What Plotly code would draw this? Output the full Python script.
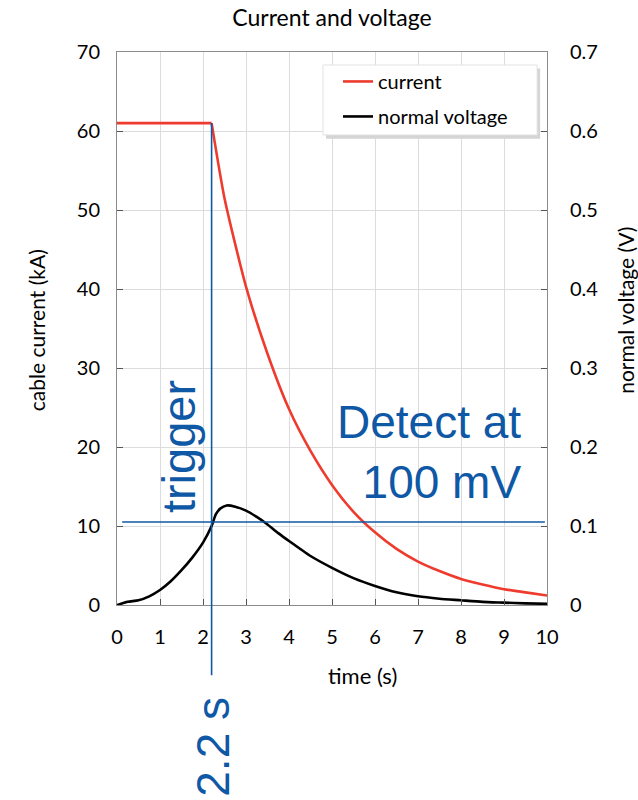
import plotly.graph_objects as go

# ---- data ----
# current: flat until the trigger, then decays
time_flat = [0, 2.2]
current_flat = [61, 61]
time_decay = [2.2, 2.5, 3.0, 3.5, 4.0, 4.5, 5.0, 5.5, 6.0, 6.5, 7.0, 7.5, 8.0, 8.5, 9.0, 9.5, 10.0]
current_decay = [61, 51.5, 40.3, 31.8, 24.8, 19.5, 15.2, 11.8, 9.2, 7.1, 5.5, 4.3, 3.3, 2.6, 2.0, 1.6, 1.2]

time_voltage = [0, 0.25, 0.5, 0.75, 1.0, 1.25, 1.5, 1.75, 2.0, 2.2, 2.3, 2.4, 2.55, 2.75, 3.0,
                3.25, 3.5, 3.75, 4.0, 4.5, 5.0, 5.5, 6.0, 6.5, 7.0, 7.5, 8.0, 8.5, 9.0, 9.5, 10.0]
voltage_v = [0.0, 0.004, 0.006, 0.011, 0.019, 0.03, 0.044, 0.06, 0.079, 0.1, 0.115, 0.122, 0.126, 0.1245, 0.1195,
             0.1115, 0.102, 0.091, 0.081, 0.062, 0.047, 0.034, 0.024, 0.016, 0.011, 0.008, 0.006, 0.004, 0.003, 0.002, 0.0015]

trigger_t = 2.2        # s
trigger_ka = 61        # current at trigger
detect_v = 0.105       # threshold line (V)

BLUE = '#0F58A5'
RED = '#EE3B2D'
FONT = 'Lato, Open Sans, sans-serif'
GRID = '#DCDCDC'
AXIS = '#8C8C8C'
BIG = 'Liberation Sans, Arial'

fig = go.Figure()
fig.add_trace(go.Scatter(
    x=time_flat, y=current_flat, mode='lines', showlegend=False,
    line=dict(color=RED, width=2.6), legendgroup='a'
))
fig.add_trace(go.Scatter(
    x=time_decay, y=current_decay, name='current', mode='lines',
    line=dict(color=RED, width=2.6, shape='spline', smoothing=0.6),
    legendgroup='a'
))
fig.add_trace(go.Scatter(
    x=time_voltage, y=voltage_v, name='normal voltage', mode='lines', yaxis='y2',
    line=dict(color='black', width=2.6, shape='spline', smoothing=0.6),
    legendgroup='b'
))

# legend box with a soft shadow (drawn as shapes)
fig.add_shape(type='rect', xref='paper', yref='paper', x0=0.486, x1=0.984, y0=0.843, y1=0.970,
              fillcolor='#D5D5D5', line=dict(width=0), layer='above')
fig.add_shape(type='rect', xref='paper', yref='paper', x0=0.479, x1=0.977, y0=0.850, y1=0.9765,
              fillcolor='white', line=dict(color='#E2E2E2', width=1), layer='above')

# trigger & detection lines
fig.add_shape(type='line', xref='x', yref='paper',
              x0=trigger_t, x1=trigger_t, y0=-0.127, y1=trigger_ka / 70,
              line=dict(color=BLUE, width=1.6))
fig.add_shape(type='line', xref='x', yref='y2',
              x0=0.12, x1=9.95, y0=detect_v, y1=detect_v,
              line=dict(color=BLUE, width=1.6))

fig.add_annotation(text='trigger', xref='x', yref='y', x=trigger_t, y=20,
                   xanchor='right', yanchor='middle', xshift=-5, textangle=-90,
                   showarrow=False, font=dict(family=BIG, size=47, color=BLUE))
fig.add_annotation(text='Detect at<br>100 mV', xref='x', yref='y', x=9.44, y=19.4,
                   xanchor='right', yanchor='middle', align='right',
                   showarrow=False, font=dict(family=BIG, size=46, color=BLUE))
fig.add_annotation(text='2.2 s', xref='x', yref='paper', x=trigger_t, y=-0.257,
                   xanchor='center', yanchor='middle', xshift=2, textangle=-90,
                   showarrow=False, font=dict(family=BIG, size=46, color=BLUE))

# axis titles
fig.add_annotation(text='cable current (kA)', xref='paper', yref='paper', x=0, y=0.497,
                   xanchor='center', yanchor='middle', xshift=-81, textangle=-90,
                   showarrow=False, font=dict(family=FONT, size=21, color='black'))
fig.add_annotation(text='normal voltage (V)', xref='paper', yref='paper', x=1, y=0.532,
                   xanchor='center', yanchor='middle', xshift=79, textangle=-90,
                   showarrow=False, font=dict(family=FONT, size=21, color='black'))
fig.add_annotation(text='time (s)', xref='paper', yref='paper', x=0.5, y=-0.128,
                   xanchor='center', yanchor='middle', xshift=30,
                   showarrow=False, font=dict(family=FONT, size=22, color='black'))

axis_common = dict(showgrid=True, gridcolor=GRID, gridwidth=1, zeroline=False,
                   showline=True, linecolor=AXIS, linewidth=1,
                   ticks='inside', ticklen=6, tickcolor='#555',
                   tickfont=dict(family=FONT, size=20, color='black'))

fig.update_layout(
    width=638, height=800,
    margin=dict(l=117, r=91, t=52, b=195),
    paper_bgcolor='white', plot_bgcolor='white',
    font=dict(family=FONT, color='black'),
    title=dict(text='Current and voltage', x=0.5, xref='paper', xanchor='center',
               y=0.977, yanchor='middle', font=dict(family=FONT, size=23, color='black')),
    xaxis=dict(range=[0, 10], dtick=1, mirror=True, ticklabelstandoff=14, **axis_common),
    yaxis=dict(range=[0, 70], dtick=10, mirror=True, ticklabelstandoff=12, **axis_common),
    yaxis2=dict(range=[0, 0.7], dtick=0.1, overlaying='y', side='right', ticklabelstandoff=18,
                **{**axis_common, 'showgrid': False}),
    legend=dict(x=0.514, y=0.982, xanchor='left', yanchor='top',
                bgcolor='rgba(0,0,0,0)', borderwidth=0,
                font=dict(family=FONT, size=20, color='black'),
                tracegroupgap=6),
    showlegend=True,
)

fig.write_html("out.html", config={'displayModeBar': False},
               post_script="document.body.style.margin='0';"
                           "document.documentElement.style.overflow='hidden';")
